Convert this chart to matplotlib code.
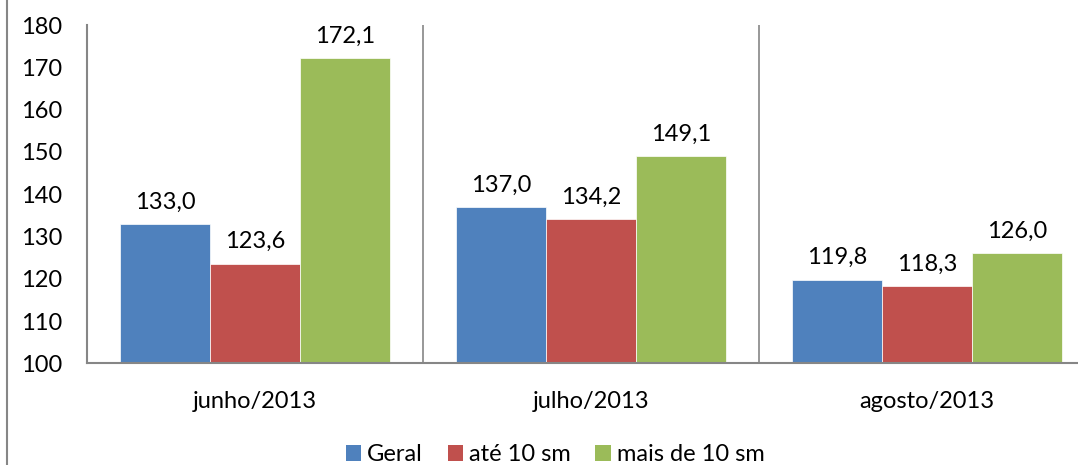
import numpy as np
import matplotlib
matplotlib.use('Agg')
import matplotlib.pyplot as plt
from matplotlib.patches import Patch
from matplotlib.lines import Line2D

categories = ['junho/2013', 'julho/2013', 'agosto/2013']
series_names = ['Geral', 'até 10 sm', 'mais de 10 sm']
geral = [133.0, 137.0, 119.8]
ate_10 = [123.6, 134.2, 118.3]
mais_10 = [172.1, 149.1, 126.0]
colors = ['#4F81BD', '#C0504D', '#9BBB59']

plt.rcParams['font.family'] = ['Lato', 'DejaVu Sans']
plt.rcParams['font.size'] = 17

fig = plt.figure(figsize=(10.78, 4.65), dpi=100)
ax = fig.add_axes([87 / 1078, 1 - 363.3 / 465, 1008 / 1078, (363.3 - 25) / 465])

x = np.arange(len(categories)) + 0.5
width = 0.268
series = [geral, ate_10, mais_10]

for k, (vals, name, col) in enumerate(zip(series, series_names, colors)):
    pos = x + (k - 1) * width
    ax.bar(pos, np.array(vals) - 100, width, bottom=100, color=col,
           edgecolor='white', linewidth=0.5, label=name)
    for px, v in zip(pos, vals):
        ax.annotate(f'{v:.1f}'.replace('.', ','), (px, v), xytext=(0, 11),
                    textcoords='offset points', ha='center', va='baseline',
                    fontsize=17, color='black')

# linhas separando os grupos
for i in range(1, len(categories)):
    ax.axvline(i, color='#868686', linewidth=1.2, zorder=0)

ax.set_xlim(0, len(categories))
ax.set_ylim(100, 180)
ax.set_yticks(np.arange(100, 181, 10))
ax.set_xticks(x)
ax.set_xticklabels(categories)
ax.tick_params(axis='y', length=0, pad=18)
ax.tick_params(axis='x', length=0, pad=20)

for s in ['top', 'right']:
    ax.spines[s].set_visible(False)
for s in ['left', 'bottom']:
    ax.spines[s].set_color('#868686')
    ax.spines[s].set_linewidth(1.5)

handles = [Patch(facecolor=c) for c in colors]
fig.legend(handles, series_names, loc='center', bbox_to_anchor=(0.515, 0.022),
           ncol=3, frameon=False, handlelength=0.65, handleheight=0.65,
           handletextpad=0.25, columnspacing=1.05, borderpad=0, fontsize=17)

# borda esquerda do quadro
fig.add_artist(Line2D([7 / 1078, 7 / 1078], [0, 1], color='#868686', linewidth=1.5))

fig.savefig('out.png', dpi=100)
